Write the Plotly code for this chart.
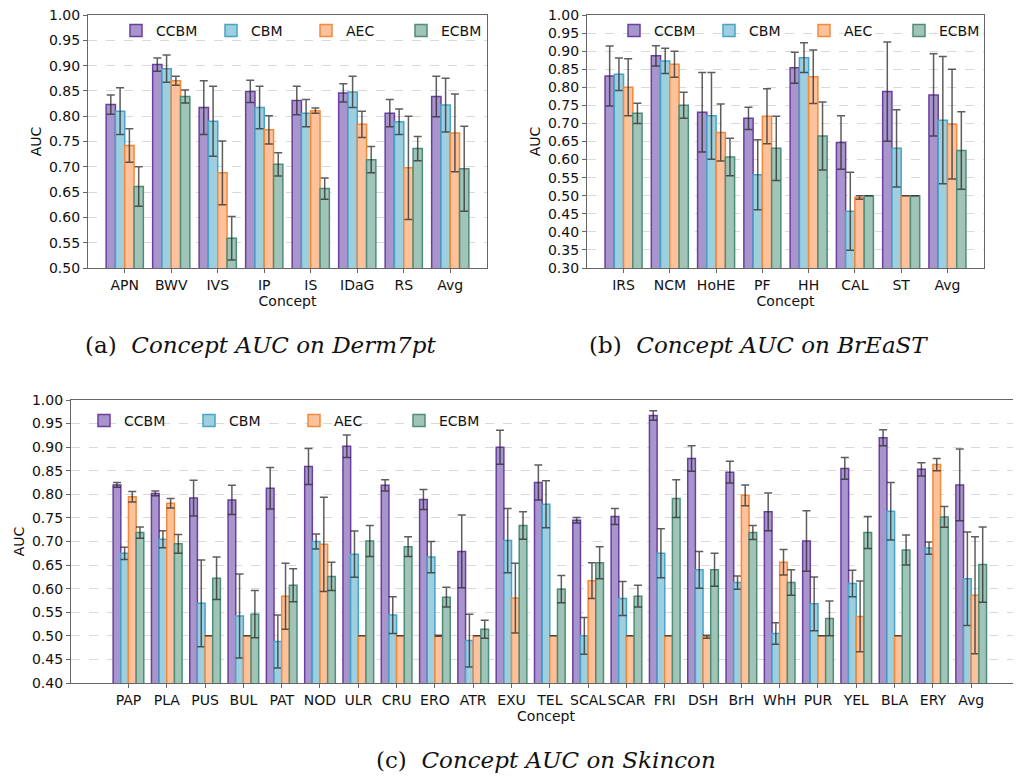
import plotly.graph_objects as go

methods = ["CCBM", "CBM", "AEC", "ECBM"]
fills = ["#a895cc", "#9ecfdf", "#fdc29c", "#a1c4b8"]
edges = ["#6b3fa0", "#4aa3c8", "#f28a3c", "#4f8c79"]

# (a) Derm7pt
derm_concepts = ["APN", "BWV", "IVS", "IP", "IS", "IDaG", "RS", "Avg"]
derm_ccbm = [0.823, 0.902, 0.817, 0.849, 0.831, 0.846, 0.806, 0.839]
derm_ccbm_err = [0.019, 0.013, 0.053, 0.022, 0.028, 0.018, 0.027, 0.040]
derm_cbm = [0.810, 0.894, 0.790, 0.817, 0.806, 0.848, 0.789, 0.822]
derm_cbm_err = [0.046, 0.027, 0.069, 0.042, 0.027, 0.031, 0.025, 0.053]
derm_aec = [0.742, 0.870, 0.688, 0.773, 0.811, 0.784, 0.698, 0.767]
derm_aec_err = [0.033, 0.009, 0.063, 0.028, 0.005, 0.026, 0.102, 0.077]
derm_ecbm = [0.661, 0.839, 0.559, 0.705, 0.657, 0.714, 0.736, 0.696]
derm_ecbm_err = [0.039, 0.013, 0.043, 0.023, 0.021, 0.026, 0.024, 0.084]

# (b) BrEaST
breast_concepts = ["IRS", "NCM", "HoHE", "PF", "HH", "CAL", "ST", "Avg"]
breast_ccbm = [0.831, 0.887, 0.731, 0.714, 0.854, 0.647, 0.788, 0.779]
breast_ccbm_err = [0.083, 0.028, 0.110, 0.031, 0.043, 0.074, 0.137, 0.114]
breast_cbm = [0.836, 0.873, 0.721, 0.558, 0.882, 0.457, 0.631, 0.709]
breast_cbm_err = [0.045, 0.035, 0.120, 0.097, 0.041, 0.108, 0.107, 0.176]
breast_aec = [0.800, 0.864, 0.675, 0.720, 0.829, 0.495, 0.500, 0.698]
breast_aec_err = [0.079, 0.036, 0.079, 0.076, 0.074, 0.005, 0.0, 0.152]
breast_ecbm = [0.728, 0.750, 0.607, 0.631, 0.665, 0.500, 0.500, 0.625]
breast_ecbm_err = [0.028, 0.036, 0.052, 0.089, 0.094, 0.0, 0.0, 0.107]

# (c) Skincon
skin_concepts = ["PAP", "PLA", "PUS", "BUL", "PAT", "NOD", "ULR", "CRU", "ERO", "ATR",
                 "EXU", "TEL", "SCAL", "SCAR", "FRI", "DSH", "BrH", "WhH", "PUR", "YEL",
                 "BLA", "ERY", "Avg"]
skin_ccbm = [0.820, 0.802, 0.792, 0.788, 0.813, 0.859, 0.902, 0.819, 0.789, 0.679,
             0.900, 0.825, 0.745, 0.753, 0.967, 0.876, 0.847, 0.763, 0.701, 0.855,
             0.920, 0.853, 0.820]
skin_ccbm_err = [0.005, 0.005, 0.038, 0.031, 0.044, 0.038, 0.024, 0.012, 0.021, 0.077,
                 0.036, 0.037, 0.006, 0.017, 0.010, 0.027, 0.023, 0.040, 0.064, 0.023,
                 0.017, 0.014, 0.076]
skin_cbm = [0.675, 0.705, 0.569, 0.542, 0.488, 0.700, 0.673, 0.544, 0.667, 0.490,
            0.702, 0.779, 0.500, 0.579, 0.675, 0.640, 0.613, 0.505, 0.568, 0.611,
            0.764, 0.686, 0.621]
skin_cbm_err = [0.013, 0.018, 0.092, 0.089, 0.056, 0.016, 0.049, 0.039, 0.033, 0.056,
                0.068, 0.050, 0.039, 0.036, 0.052, 0.039, 0.014, 0.023, 0.057, 0.028,
                0.061, 0.013, 0.099]
skin_aec = [0.795, 0.781, 0.500, 0.500, 0.584, 0.694, 0.500, 0.500, 0.500, 0.500,
            0.580, 0.500, 0.617, 0.500, 0.500, 0.498, 0.798, 0.656, 0.500, 0.541,
            0.500, 0.863, 0.586]
skin_aec_err = [0.011, 0.010, 0.0, 0.0, 0.070, 0.100, 0.0, 0.0, 0.001, 0.0,
                0.074, 0.0, 0.038, 0.0, 0.0, 0.003, 0.022, 0.027, 0.0, 0.075,
                0.0, 0.013, 0.124]
skin_ecbm = [0.719, 0.695, 0.622, 0.546, 0.607, 0.626, 0.701, 0.689, 0.582, 0.514,
             0.734, 0.599, 0.655, 0.584, 0.791, 0.640, 0.719, 0.613, 0.537, 0.719,
             0.682, 0.752, 0.651]
skin_ecbm_err = [0.012, 0.020, 0.045, 0.050, 0.035, 0.030, 0.033, 0.021, 0.021, 0.019,
                 0.029, 0.029, 0.034, 0.023, 0.040, 0.035, 0.015, 0.027, 0.037, 0.034,
                 0.032, 0.022, 0.080]

# page body has an 8px margin; figure is shifted by OFF in the screenshot
OFF = 8
W, H = 1021 - OFF, 777 - OFF
TICK_FONT = dict(family="DejaVu Sans", size=14, color="#111")
fig = go.Figure()

panels = [
    ("x", "y", "legend", derm_concepts,
     [derm_ccbm, derm_cbm, derm_aec, derm_ecbm],
     [derm_ccbm_err, derm_cbm_err, derm_aec_err, derm_ecbm_err]),
    ("x2", "y2", "legend2", breast_concepts,
     [breast_ccbm, breast_cbm, breast_aec, breast_ecbm],
     [breast_ccbm_err, breast_cbm_err, breast_aec_err, breast_ecbm_err]),
    ("x3", "y3", "legend3", skin_concepts,
     [skin_ccbm, skin_cbm, skin_aec, skin_ecbm],
     [skin_ccbm_err, skin_cbm_err, skin_aec_err, skin_ecbm_err]),
]

for xa, ya, lg, cats, vals, errs in panels:
    for i, m in enumerate(methods):
        fig.add_trace(go.Bar(
            x=cats, y=vals[i], name=m, xaxis=xa, yaxis=ya, legend=lg,
            offsetgroup=str(i),
            marker=dict(color=fills[i], line=dict(color=edges[i], width=1.5)),
            error_y=dict(type="data", array=errs[i], color="rgba(40,40,40,0.75)",
                         thickness=1.5, width=4),
        ))


def fx(px):
    return (px - OFF) / W


def fy(py):
    return 1 - (py - OFF) / H


def px_x(a, b):
    return [fx(a), min(1.0, fx(b))]


def px_y(top, bottom):
    return [fy(bottom), fy(top)]


def xaxis(domain, anchor, rng):
    return dict(domain=domain, anchor=anchor, range=rng, type="category",
                showline=True, mirror=True, linecolor="#666", linewidth=1.2,
                ticks="outside", ticklen=4, tickcolor="#666", tickfont=TICK_FONT,
                tickangle=0, automargin=False, ticklabeloverflow="allow",
                showgrid=False, zeroline=False,
                title=dict(text="Concept", font=TICK_FONT, standoff=2))


def yaxis(domain, anchor, rng, dtick):
    return dict(domain=domain, anchor=anchor, range=rng, dtick=dtick, tickformat=".2f",
                showline=True, mirror=True, linecolor="#666", linewidth=1.2,
                ticks="outside", ticklen=4, tickcolor="#666", tickfont=TICK_FONT,
                automargin=False, ticklabeloverflow="allow",
                showgrid=True, gridcolor="#d9d9d9", griddash="dash", gridwidth=0.8,
                zeroline=False,
                title=dict(text="AUC", font=TICK_FONT, standoff=4))


legend_common = dict(orientation="h", bgcolor="rgba(0,0,0,0)",
                     font=dict(family="DejaVu Sans", size=14, color="#111"),
                     entrywidthmode="pixels", xanchor="left", yanchor="middle",
                     itemwidth=30, tracegroupgap=0)

fig.update_layout(
    width=W, height=H, margin=dict(l=0, r=0, t=0, b=0, autoexpand=False),
    paper_bgcolor="white", plot_bgcolor="white",
    barmode="group", bargap=0.2, bargroupgap=0.0,
    xaxis=xaxis(px_x(88, 487), "y", [-0.79, 7.79]),
    yaxis=yaxis(px_y(15, 268), "x", [0.5, 1.0], 0.05),
    xaxis2=xaxis(px_x(587, 984), "y2", [-0.79, 7.79]),
    yaxis2=yaxis(px_y(15, 268), "x2", [0.3, 1.0], 0.05),
    xaxis3=xaxis(px_x(71, 1021), "y3", [-1.5, 23.3]),
    yaxis3=yaxis(px_y(400, 683), "x3", [0.4, 1.0], 0.05),
    legend=dict(legend_common, x=fx(116), y=fy(31), entrywidth=50),
    legend2=dict(legend_common, x=fx(614), y=fy(31), entrywidth=50),
    legend3=dict(legend_common, x=fx(84), y=fy(421), entrywidth=60),
    showlegend=True,
)

cap_font = dict(family="DejaVu Serif", size=23, color="#111")
captions = [
    ("(a)  <i>Concept AUC on Derm7pt</i>", 260, 345),
    ("(b)  <i>Concept AUC on BrEaST</i>", 758, 345),
    ("(c)  <i>Concept AUC on Skincon</i>", 546, 760),
]
for txt, cx, cy in captions:
    fig.add_annotation(text=txt, x=fx(cx), y=fy(cy), xref="paper", yref="paper",
                       showarrow=False, font=cap_font, xanchor="center", yanchor="middle")

fig.write_html("out.html")
